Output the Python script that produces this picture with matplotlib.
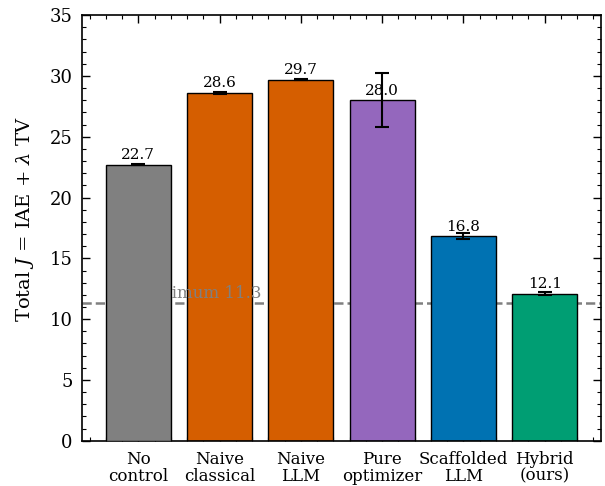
import numpy as np
import matplotlib.pyplot as plt

methods = ['No\ncontrol', 'Naive\nclassical', 'Naive\nLLM', 'Pure\noptimizer', 'Scaffolded\nLLM', 'Hybrid\n(ours)']
totals = [22.7, 28.6, 29.7, 28.0, 16.8, 12.1]
errors = [0.05, 0.05, 0.05, 2.2, 0.25, 0.15]
colors = ['#808080', '#D55E00', '#D55E00', '#9467BD', '#0072B2', '#009E73']
optimum = 11.3

plt.rcParams['font.family'] = 'DejaVu Serif'
plt.rcParams['mathtext.fontset'] = 'dejavuserif'

fig, ax = plt.subplots(figsize=(6.05, 4.86), dpi=100)
fig.subplots_adjust(left=0.136, right=0.993, top=0.969, bottom=0.093)

x = np.arange(len(methods))
ax.axhline(optimum, color='gray', ls='--', lw=1.8, zorder=1)
ax.text(0.113, optimum + 0.4, 'Optimum %.1f' % optimum, transform=ax.get_yaxis_transform(),
        color='gray', fontsize=12, zorder=2.5)
bars = ax.bar(x, totals, width=0.8, color=colors, edgecolor='black', linewidth=1.0, zorder=2,
              yerr=errors, capsize=5, error_kw=dict(elinewidth=1.5, capthick=1.5, ecolor='black', zorder=4))
bars[0].set_zorder(3)
for xi, v in zip(x, totals):
    ax.text(xi, v + 0.2, '%.1f' % v, ha='center', va='bottom', fontsize=11, zorder=5)

ax.set_xticks(x)
ax.set_xticklabels(methods, fontsize=12, linespacing=1.0)
ax.set_ylim(0, 35)
ax.set_ylabel(r'Total $J$ = IAE + $\lambda$ TV', fontsize=14)
ax.yaxis.set_label_coords(-0.09, 0.52)
ax.minorticks_on()
ax.tick_params(which='both', direction='in', top=True, right=True)
ax.tick_params(which='major', length=6, width=1)
ax.tick_params(which='minor', length=3, width=0.8)
ax.tick_params(axis='y', labelsize=13, pad=7)
ax.tick_params(axis='x', pad=7)
for s in ax.spines.values():
    s.set_linewidth(1.2)

fig.savefig('out.png', dpi=100)
